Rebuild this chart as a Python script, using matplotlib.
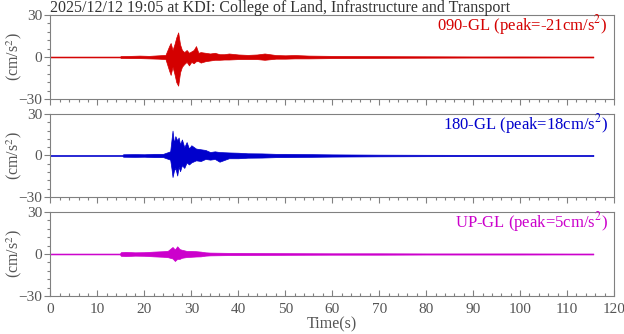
import matplotlib
matplotlib.use("Agg")
import matplotlib.pyplot as plt
from matplotlib.ticker import MultipleLocator

plt.rcParams['font.family'] = ['Liberation Serif', 'DejaVu Serif']
plt.rcParams['mathtext.fontset'] = 'stix'

title = "2025/12/12 19:05 at KDI: College of Land, Infrastructure and Transport"
components = ["090-GL", "180-GL", "UP-GL"]
peaks = [-21, 18, 5]
colors = ["#d40000", "#0000cc", "#cc00cc"]

# amplitude envelopes (time in s, upper / lower in cm/s^2)
t_090 = [0, 14.8, 15, 17, 19, 21, 23, 24.5, 25.3, 25.6, 26.0, 26.4, 26.8, 27.2, 27.6, 28.0,
         28.5, 29, 29.5, 30, 30.5, 31, 31.5, 32, 33, 34, 35, 36, 37, 38, 40, 42, 44, 45.6,
         48, 50, 52, 55, 60, 65, 70, 80, 90, 100, 110, 115.6]
up_090 = [0.3, 0.3, 0.7, 0.8, 1, 0.8, 1.2, 1.5, 8, 10, 5, 9, 14, 17.6, 9, 5,
          3.5, 5, 3, 4, 5, 7.8, 3, 3.5, 3, 2.5, 3, 2, 2, 2.5, 1.8, 1.5, 1.8, 2.5,
          1.4, 1.2, 1.4, 1, 0.8, 0.7, 0.6, 0.5, 0.4, 0.4, 0.35, 0.35]
lo_090 = [-0.3, -0.3, -0.7, -0.8, -0.8, -1, -1.2, -1.5, -10, -12.8, -7, -12, -18, -20.5, -11, -7,
          -5, -3.5, -6, -3.5, -4.5, -3, -3, -4, -3, -2.5, -2, -2, -1.8, -1.8, -1.5, -1.5, -1.5, -2,
          -1.2, -1.2, -1, -1, -0.8, -0.7, -0.6, -0.5, -0.4, -0.4, -0.35, -0.35]

t_180 = [0, 15.3, 15.5, 18, 20, 22, 24, 25.5, 25.8, 26.0, 26.3, 26.6, 27.0, 27.3, 27.6, 28,
         28.5, 29, 29.5, 30, 31, 32, 33, 34, 35, 36, 38, 40, 42, 45, 48, 50, 55, 60, 70, 80,
         90, 100, 110, 115.6]
up_180 = [0.3, 0.3, 0.9, 1, 0.9, 1.2, 1.2, 3, 12, 18, 9, 14, 11, 13, 8, 11.6,
          6, 9.7, 5, 7.4, 5, 4.5, 4, 2.5, 3, 2.5, 2.2, 2, 1.6, 1.5, 1.2, 1.2, 1, 0.8, 0.6, 0.5,
          0.45, 0.45, 0.4, 0.4]
lo_180 = [-0.3, -0.3, -0.9, -1, -0.9, -1.2, -1.2, -3, -10, -15.6, -11, -9, -14.5, -8, -11.4, -7,
          -9, -5, -6.5, -5, -3.5, -4, -2.5, -3, -2.5, -4.5, -2, -2, -1.6, -1.5, -1.2, -1.2, -1, -0.8, -0.6, -0.5,
          -0.45, -0.45, -0.4, -0.4]

t_up = [0, 14.8, 15, 16, 18, 20, 22, 24, 25, 26, 26.5, 27, 27.5, 28, 29, 30, 31, 32, 33, 34,
        36, 38, 40, 45, 50, 60, 70, 80, 90, 100, 110, 115.6]
up_up = [0.3, 0.3, 1.3, 1.5, 1.2, 1.3, 1.7, 2, 2.3, 5, 3.2, 5.5, 3.5, 3, 2.2, 2.2, 2, 1.7, 1.2, 1,
         0.9, 0.8, 0.8, 0.7, 0.6, 0.5, 0.5, 0.4, 0.4, 0.4, 0.35, 0.35]
lo_up = [-0.3, -0.3, -1.3, -1.5, -1.2, -1.3, -1.7, -2, -2.3, -3.2, -5, -3.5, -3.5, -2.7, -2.2, -2, -1.8, -1.7, -1.2, -1,
         -0.9, -0.8, -0.8, -0.7, -0.6, -0.5, -0.5, -0.4, -0.4, -0.4, -0.35, -0.35]

traces = [(t_090, up_090, lo_090), (t_180, up_180, lo_180), (t_up, up_up, lo_up)]

grey = "#808080"
txt = "#555555"

fig = plt.figure(figsize=(6.24, 3.34), dpi=100)
boxes = [[0.0808, 0.7036, 0.9032, 0.2515],
         [0.0808, 0.4102, 0.9032, 0.2485],
         [0.0808, 0.1138, 0.9032, 0.2515]]

for i, (box, (t, up, lo)) in enumerate(zip(boxes, traces)):
    ax = fig.add_axes(box)
    ax.fill_between(t, lo, up, color=colors[i], linewidth=0.5, edgecolor=colors[i])
    ax.set_xlim(0, 120)
    ax.set_ylim(-30, 30)
    ax.set_yticks([-30, 0, 30])
    ax.yaxis.set_minor_locator(MultipleLocator(6))
    ax.xaxis.set_major_locator(MultipleLocator(10))
    ax.xaxis.set_minor_locator(MultipleLocator(2))
    for s in ax.spines.values():
        s.set_color(grey)
        s.set_linewidth(0.8)
    ax.tick_params(axis='y', which='both', direction='out', colors=grey, labelcolor=txt,
                   labelsize=11, length=4, width=0.8, pad=2)
    ax.tick_params(axis='y', which='minor', length=2.5)
    xdir = 'in' if i == 2 else 'out'
    ax.tick_params(axis='x', which='both', direction=xdir, colors=grey, labelcolor=txt,
                   labelsize=11, length=4, width=0.8, pad=5)
    ax.tick_params(axis='x', which='minor', length=2.5)
    if i < 2:
        ax.tick_params(axis='x', labelbottom=False)
    else:
        ax.set_xlabel("Time(s)", color=txt, fontsize=11.5, labelpad=0)
    ax.set_ylabel("(cm/s$^2$)", color=txt, fontsize=11.5)
    ax.yaxis.set_label_coords(-0.047, 0.5)
    ax.text(0.989, 0.88, f"{components[i]} (peak={peaks[i]}cm/s$^2$)", transform=ax.transAxes,
            ha='right', va='center', color=colors[i], fontsize=12)

fig.text(0.0808, 1.0, title, ha='left', va='top', color="#333333", fontsize=11.5)

fig.savefig("out.png", dpi=100)
